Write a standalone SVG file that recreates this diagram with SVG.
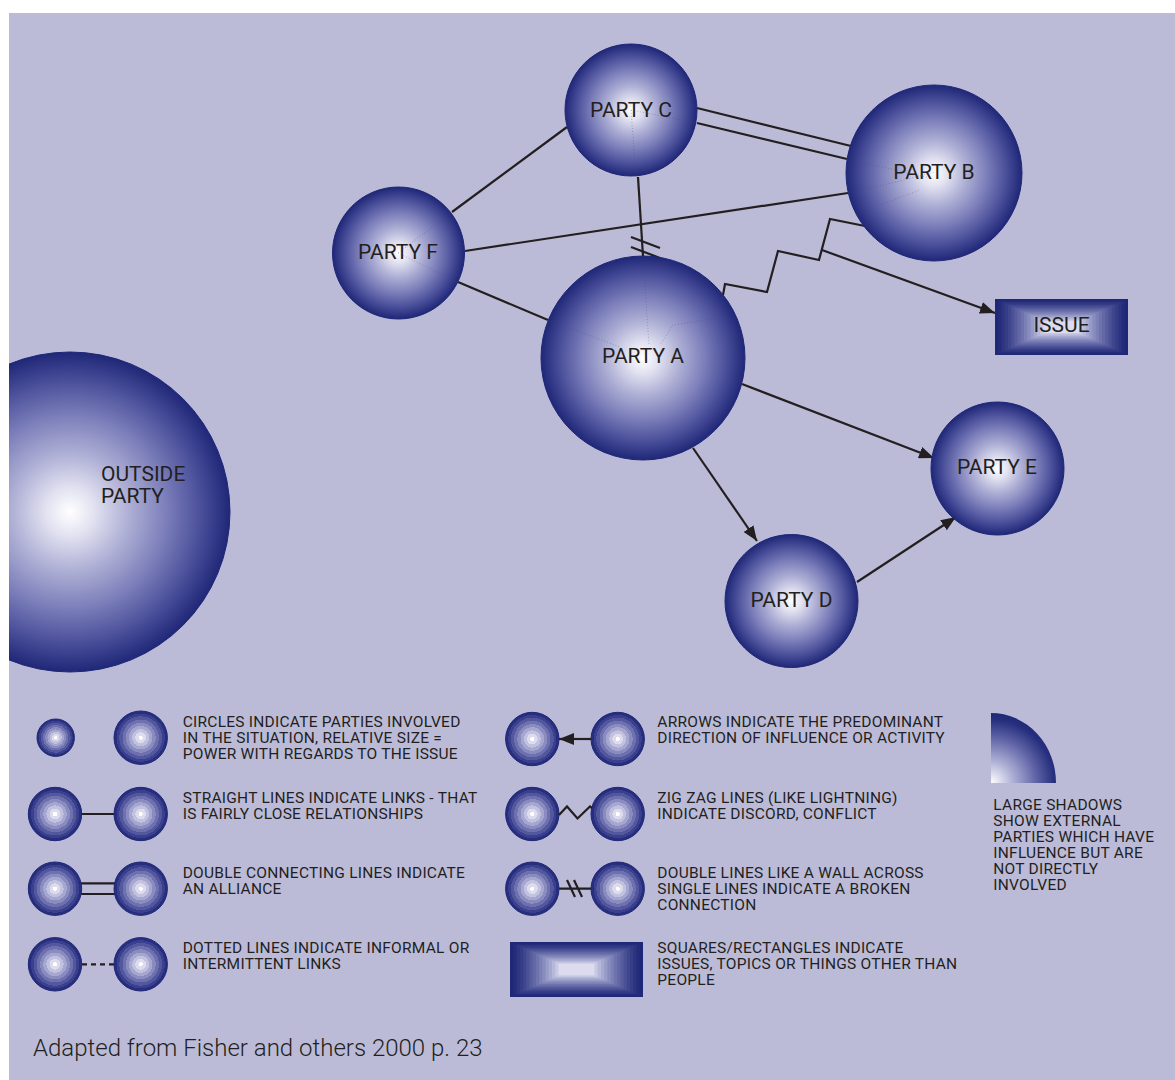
<svg xmlns="http://www.w3.org/2000/svg" width="1175" height="1080" viewBox="0 0 1175 1080">
<defs>
<style>
.bg{fill:#BBBBD8}
.node{stroke:#1F2777;stroke-width:1;fill:url(#sphere)}
.lnode{stroke:#1F2777;stroke-width:1;fill:url(#ring)}
.lbl{font-family:Roboto,"Liberation Sans",sans-serif;font-size:21px;fill:#231F20;text-anchor:middle}
.olbl{font-family:Roboto,"Liberation Sans",sans-serif;font-size:21px;fill:#231F20}
.leg{font-family:Roboto,"Liberation Sans",sans-serif;font-size:15.5px;fill:#231F20;letter-spacing:0.25px}
.foot{font-family:Roboto,"Liberation Sans",sans-serif;font-size:24px;font-weight:300;fill:#231F20}
.ln{stroke:#231F20;stroke-width:2.2;fill:none}
.arr{marker-end:url(#ah)}
.hid{stroke:#4A4A70;stroke-width:0.8;fill:none;stroke-dasharray:1 2;opacity:0.45}
</style>
<radialGradient id="sphere" cx="0.5" cy="0.5" r="0.5">
<stop offset="0" stop-color="#FFFFFF"/>
<stop offset="0.15" stop-color="#E2E2F1"/>
<stop offset="0.35" stop-color="#B2B3D7"/>
<stop offset="0.6" stop-color="#7C7FBA"/>
<stop offset="0.82" stop-color="#4A4F9A"/>
<stop offset="1" stop-color="#1F2777"/>
</radialGradient>
<radialGradient id="ring" cx="0.5" cy="0.5" r="0.5">
<stop offset="0" stop-color="#FFFFFF"/>
<stop offset="0.08" stop-color="#FFFFFF"/>
<stop offset="0.08" stop-color="#DCDCEE"/>
<stop offset="0.2" stop-color="#DCDCEE"/>
<stop offset="0.2" stop-color="#C2C2E0"/>
<stop offset="0.32" stop-color="#C2C2E0"/>
<stop offset="0.32" stop-color="#A6A7D0"/>
<stop offset="0.44" stop-color="#A6A7D0"/>
<stop offset="0.44" stop-color="#8A8CC0"/>
<stop offset="0.56" stop-color="#8A8CC0"/>
<stop offset="0.56" stop-color="#6E71AF"/>
<stop offset="0.68" stop-color="#6E71AF"/>
<stop offset="0.68" stop-color="#53579E"/>
<stop offset="0.8" stop-color="#53579E"/>
<stop offset="0.8" stop-color="#3A408D"/>
<stop offset="0.9" stop-color="#3A408D"/>
<stop offset="0.9" stop-color="#262E7D"/>
<stop offset="1" stop-color="#262E7D"/>
</radialGradient>
<radialGradient id="quarter" gradientUnits="userSpaceOnUse" cx="991" cy="783" r="70">
<stop offset="0" stop-color="#FFFFFF"/>
<stop offset="0.3" stop-color="#B2B3D7"/>
<stop offset="0.65" stop-color="#5F63A6"/>
<stop offset="0.9" stop-color="#27307E"/>
<stop offset="1" stop-color="#1F2777"/>
</radialGradient>
<clipPath id="bgclip"><rect x="9" y="13" width="1166" height="1067"/></clipPath>
<marker id="ah" markerUnits="userSpaceOnUse" markerWidth="16" markerHeight="12" refX="15" refY="6" orient="auto">
<path d="M0,0 L15,6 L0,12 Z" fill="#231F20"/>
</marker>
<symbol id="box" viewBox="0 0 133 56" width="133" height="56" preserveAspectRatio="none">
<rect x="0" y="0" width="133" height="56" fill="#1F2777"/>
<rect x="3.2" y="1.5" width="126.6" height="53" fill="#252D7B"/>
<rect x="6.5" y="3" width="120" height="50" fill="#2D3581"/>
<rect x="9.7" y="4.4" width="113.6" height="47.2" fill="#363D87"/>
<rect x="12.9" y="5.9" width="107.2" height="44.2" fill="#40468E"/>
<rect x="16.2" y="7.3" width="100.6" height="41.4" fill="#4B5195"/>
<rect x="19.4" y="8.8" width="94.2" height="38.4" fill="#565C9D"/>
<rect x="22.6" y="10.3" width="87.8" height="35.4" fill="#6267A5"/>
<rect x="25.9" y="11.7" width="81.2" height="32.6" fill="#6E73AD"/>
<rect x="29.1" y="13.2" width="74.8" height="29.6" fill="#7B80B5"/>
<rect x="32.3" y="14.7" width="68.4" height="26.6" fill="#898DBE"/>
<rect x="35.6" y="16.1" width="61.8" height="23.8" fill="#979BC7"/>
<rect x="38.8" y="17.6" width="55.4" height="20.8" fill="#A6A9D0"/>
<rect x="42" y="19.1" width="49" height="17.8" fill="#B6B8DA"/>
<rect x="45.3" y="20.5" width="42.4" height="15" fill="#C7C8E3"/>
<rect x="48.5" y="22" width="36" height="12" fill="#DCDCEE"/>
</symbol>
</defs>
<rect class="bg" x="9" y="13" width="1166" height="1067"/>

<g id="outside-party" clip-path="url(#bgclip)">
<circle class="node" cx="70" cy="512" r="160"/>
<text class="olbl" x="101" y="481">OUTSIDE</text>
<text class="olbl" x="101" y="503">PARTY</text>
</g>

<g id="connectors">
<path class="ln" d="M452,212 L567,127"/>
<path class="ln" d="M697,108 L851,146"/>
<path class="ln" d="M697,123 L847,159"/>
<path class="ln" d="M465,251 L848,193"/>
<path class="ln" d="M638,177 L643,256"/>
<path class="ln" d="M631,237 L660,248"/>
<path class="ln" d="M631,247 L660,258"/>
<path class="ln" d="M458,282 L548,320"/>
<path class="ln" d="M723,295 L725,284 L767,292 L778,251 L819,260 L830,219 L865,226"/>
<path class="ln arr" d="M822,250 L995,313"/>
<path class="ln arr" d="M742,384 L934,458"/>
<path class="ln arr" d="M693,448 L757,541"/>
<path class="ln arr" d="M857,582 L956,517"/>
</g>

<g id="party-c">
<circle class="node" cx="631" cy="110" r="66"/>
<text class="lbl" x="631" y="117">PARTY C</text>
</g>
<g id="party-b">
<circle class="node" cx="934" cy="173" r="88"/>
<text class="lbl" x="934" y="179">PARTY B</text>
</g>
<g id="party-f">
<circle class="node" cx="398.5" cy="253" r="66"/>
<text class="lbl" x="398" y="259">PARTY F</text>
</g>
<g id="party-a">
<circle class="node" cx="643" cy="358" r="102"/>
<text class="lbl" x="643" y="363">PARTY A</text>
</g>
<g id="party-e">
<circle class="node" cx="997.5" cy="468.5" r="66.5"/>
<text class="lbl" x="997" y="474">PARTY E</text>
</g>
<g id="party-d">
<circle class="node" cx="791.5" cy="601" r="66.5"/>
<text class="lbl" x="791.5" y="607">PARTY D</text>
</g>
<g id="issue">
<use href="#box" x="995" y="299" width="133" height="56"/>
<text class="lbl" x="1061.5" y="332">ISSUE</text>
</g>

<g id="hidden-links">
<path class="hid" d="M643,256 L649,345"/>
<path class="hid" d="M548,320 L620,347"/>
<path class="hid" d="M723,295 L718,318 L673,325 L660,345"/>
<path class="hid" d="M848,193 L900,181 L935,172"/>
<path class="hid" d="M847,159 L930,178"/>
<path class="hid" d="M865,226 L880,205 L920,190"/>
<path class="hid" d="M631,110 L636,177"/>
<path class="hid" d="M631,110 L697,123"/>
<path class="hid" d="M398,253 L452,212"/>
<path class="hid" d="M398,253 L458,282"/>
</g>

<g id="legend">
<circle class="lnode" cx="55.7" cy="737.7" r="18.7"/>
<circle class="lnode" cx="140.7" cy="737.7" r="26.7"/>
<text class="leg" x="182.7" y="726.7">CIRCLES INDICATE PARTIES INVOLVED</text>
<text class="leg" x="182.7" y="742.7">IN THE SITUATION, RELATIVE SIZE =</text>
<text class="leg" x="182.7" y="758.7">POWER WITH REGARDS TO THE ISSUE</text>

<path class="ln" d="M81,814 L115,814"/>
<circle class="lnode" cx="55" cy="814" r="26.7"/>
<circle class="lnode" cx="140.7" cy="814" r="26.7"/>
<text class="leg" x="182.7" y="802.7">STRAIGHT LINES INDICATE LINKS - THAT</text>
<text class="leg" x="182.7" y="818.7">IS FAIRLY CLOSE RELATIONSHIPS</text>

<path class="ln" d="M81,883.3 L115,883.3 M81,894 L115,894"/>
<circle class="lnode" cx="55" cy="888.7" r="26.7"/>
<circle class="lnode" cx="140.7" cy="888.7" r="26.7"/>
<text class="leg" x="182.7" y="877.7">DOUBLE CONNECTING LINES INDICATE</text>
<text class="leg" x="182.7" y="893.7">AN ALLIANCE</text>

<path class="ln" d="M82,964.3 L114,964.3" stroke-dasharray="5 4"/>
<circle class="lnode" cx="55" cy="964.3" r="26.7"/>
<circle class="lnode" cx="140.7" cy="964.3" r="26.7"/>
<text class="leg" x="182.7" y="953.3">DOTTED LINES INDICATE INFORMAL OR</text>
<text class="leg" x="182.7" y="969.3">INTERMITTENT LINKS</text>

<circle class="lnode" cx="532.3" cy="739" r="26.7"/>
<circle class="lnode" cx="617.7" cy="739" r="26.7"/>
<path class="ln arr" d="M591,739 L559,739"/>
<text class="leg" x="657.3" y="726.7">ARROWS INDICATE THE PREDOMINANT</text>
<text class="leg" x="657.3" y="742.7">DIRECTION OF INFLUENCE OR ACTIVITY</text>

<circle class="lnode" cx="532.3" cy="814" r="26.7"/>
<circle class="lnode" cx="617.7" cy="814" r="26.7"/>
<path class="ln" d="M559,815 L567,806.5 L577.5,818.5 L590,806.5 L592,808"/>
<text class="leg" x="657.3" y="802.7">ZIG ZAG LINES (LIKE LIGHTNING)</text>
<text class="leg" x="657.3" y="818.7">INDICATE DISCORD, CONFLICT</text>

<path class="ln" d="M559,888.7 L592,888.7 M567,880 L575,897 M574,880 L582,897"/>
<circle class="lnode" cx="532.3" cy="888.7" r="26.7"/>
<circle class="lnode" cx="617.7" cy="888.7" r="26.7"/>
<text class="leg" x="657.3" y="877.7">DOUBLE LINES LIKE A WALL ACROSS</text>
<text class="leg" x="657.3" y="893.7">SINGLE LINES INDICATE A BROKEN</text>
<text class="leg" x="657.3" y="909.7">CONNECTION</text>

<use href="#box" x="510" y="942" width="133" height="55"/>
<text class="leg" x="657.3" y="953.3">SQUARES/RECTANGLES INDICATE</text>
<text class="leg" x="657.3" y="969.3">ISSUES, TOPICS OR THINGS OTHER THAN</text>
<text class="leg" x="657.3" y="985.3">PEOPLE</text>

<path d="M991,783 L991,713 A65,70 0 0 1 1056,783 Z" fill="url(#quarter)"/>
<text class="leg" x="993.3" y="810">LARGE SHADOWS</text>
<text class="leg" x="993.3" y="826">SHOW EXTERNAL</text>
<text class="leg" x="993.3" y="842">PARTIES WHICH HAVE</text>
<text class="leg" x="993.3" y="858">INFLUENCE BUT ARE</text>
<text class="leg" x="993.3" y="874">NOT DIRECTLY</text>
<text class="leg" x="993.3" y="890">INVOLVED</text>
</g>

<text class="foot" x="33" y="1056">Adapted from Fisher and others 2000 p. 23</text>
</svg>
